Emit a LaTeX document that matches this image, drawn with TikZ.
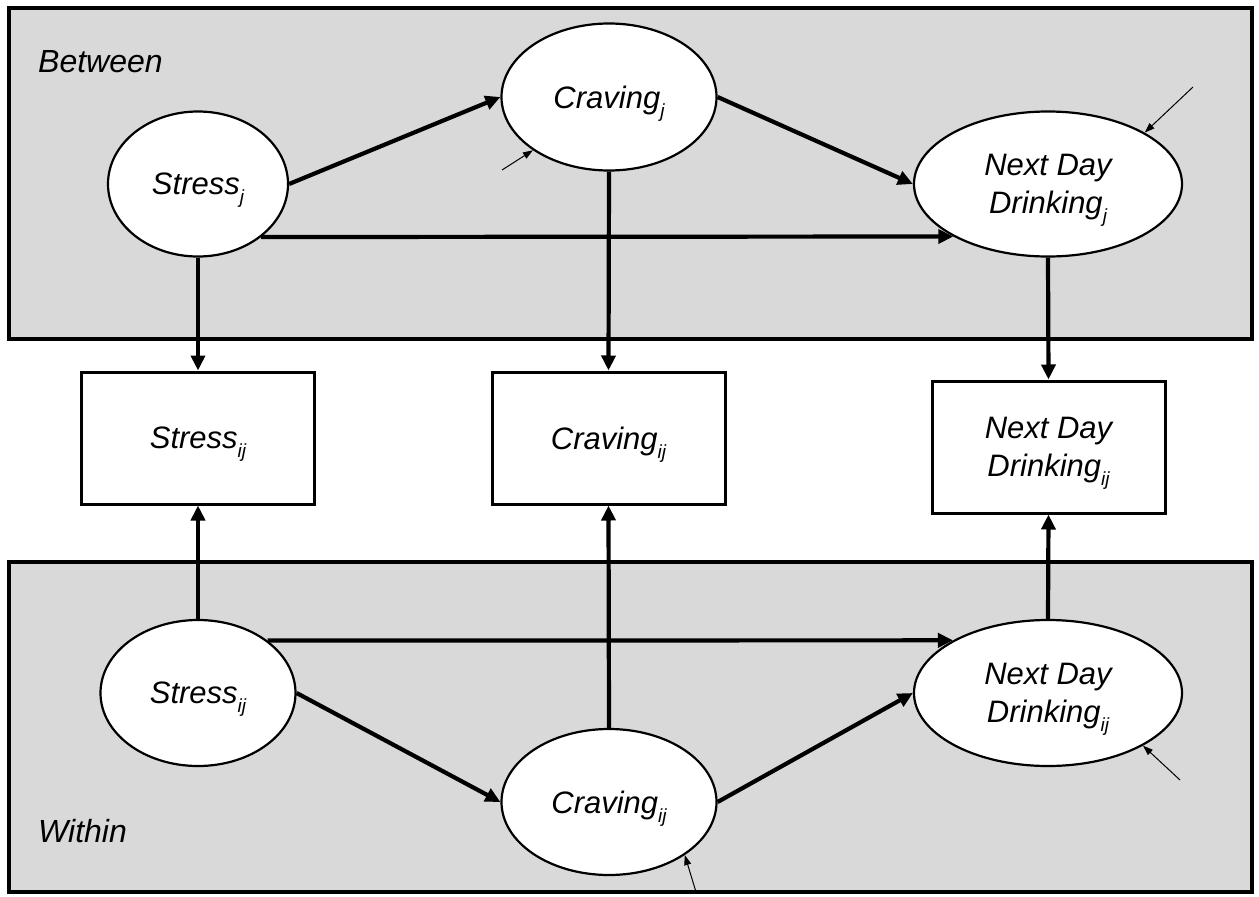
\documentclass[tikz,border=0pt]{standalone}
\usepackage{fontspec}
\setmainfont{Liberation Sans}
\usetikzlibrary{shapes.geometric,arrows.meta}
\newcommand\sbj[1]{\raisebox{-9pt}[0pt][0pt]{\fontsize{19}{19}\selectfont #1}}
\begin{document}
\begin{tikzpicture}[x=1pt,y=-1pt,
  panel/.style={draw=black,line width=4.5pt,fill=gray!30},
  lat/.style={ellipse,draw=black,line width=2.2pt,fill=white,inner sep=0pt,align=center,text depth=0pt,font=\fontsize{31}{38}\selectfont\itshape},
  obs/.style={rectangle,draw=black,line width=3pt,fill=white,inner sep=0pt,align=center,text depth=0pt,minimum width=233pt,minimum height=132pt,font=\fontsize{31}{38}\selectfont\itshape},
  lbl/.style={anchor=base west,inner sep=0pt,font=\fontsize{32}{38}\selectfont\itshape},
  pth/.style={line width=4.2pt,-{Triangle[length=15pt,width=14pt]}},
  res/.style={line width=1pt,-{Triangle[length=10pt,width=7pt]}},
]
\useasboundingbox (0,0) rectangle (1259,897);
\fill[white] (0,0) rectangle (1259,897);
\draw[panel] (9,8) rectangle (1252,339);
\draw[panel] (9,562) rectangle (1252,892);

\node[lbl] (lb) at (38,72) {Between};
\node[lbl] (lw) at (38,842) {Within};

\node[lat,minimum width=180pt,minimum height=145pt] (sj) at (198,184) {Stress\sbj{j}};
\node[lat,minimum width=215pt,minimum height=147pt] (cj) at (609,97) {Craving\sbj{j}};
\node[lat,minimum width=268pt,minimum height=145pt] (ndj) at (1048,184) {Next Day\\Drinking\sbj{j}};

\node[obs] (sb) at (198,438) {Stress\sbj{ij}};
\node[obs] (cb) at (608.5,438) {Craving\sbj{ij}};
\node[obs] (nb) at (1048.5,447) {Next Day\\Drinking\sbj{ij}};

\node[lat,minimum width=195pt,minimum height=146pt] (sij) at (198,693) {Stress\sbj{ij}};
\node[lat,minimum width=215pt,minimum height=146pt] (cij) at (609,802) {Craving\sbj{ij}};
\node[lat,minimum width=268pt,minimum height=146pt] (nij) at (1048,693) {Next Day\\Drinking\sbj{ij}};

\draw[pth] (sj.east) -- (cj.west);
\draw[pth] (cj.east) -- (ndj.west);
\draw[pth] (sj.-40) -- (ndj.209.3);
\draw[pth] (sj.south) -- (sb.north);
\draw[pth] (cj.south) -- (cb.north);
\draw[pth] (ndj.south) -- (nb.north);
\draw[pth] (sij.north) -- (sb.south);
\draw[pth] (cij.north) -- (cb.south);
\draw[pth] (nij.north) -- (nb.south);
\draw[pth] (sij.37.4) -- (nij.151);
\draw[pth] (sij.east) -- (cij.west);
\draw[pth] (cij.east) -- (nij.west);

\coordinate (e1) at (502,170);
\coordinate (e2) at (1193,87);
\coordinate (e3) at (696,892);
\coordinate (e4) at (1180,780);
\draw[res] (e1) -- (cj.215);
\draw[res] (e2) -- (ndj.28.7);
\draw[res] (e3) -- (cij.-35.6);
\draw[res] (e4) -- (nij.-29.2);
\end{tikzpicture}
\end{document}
